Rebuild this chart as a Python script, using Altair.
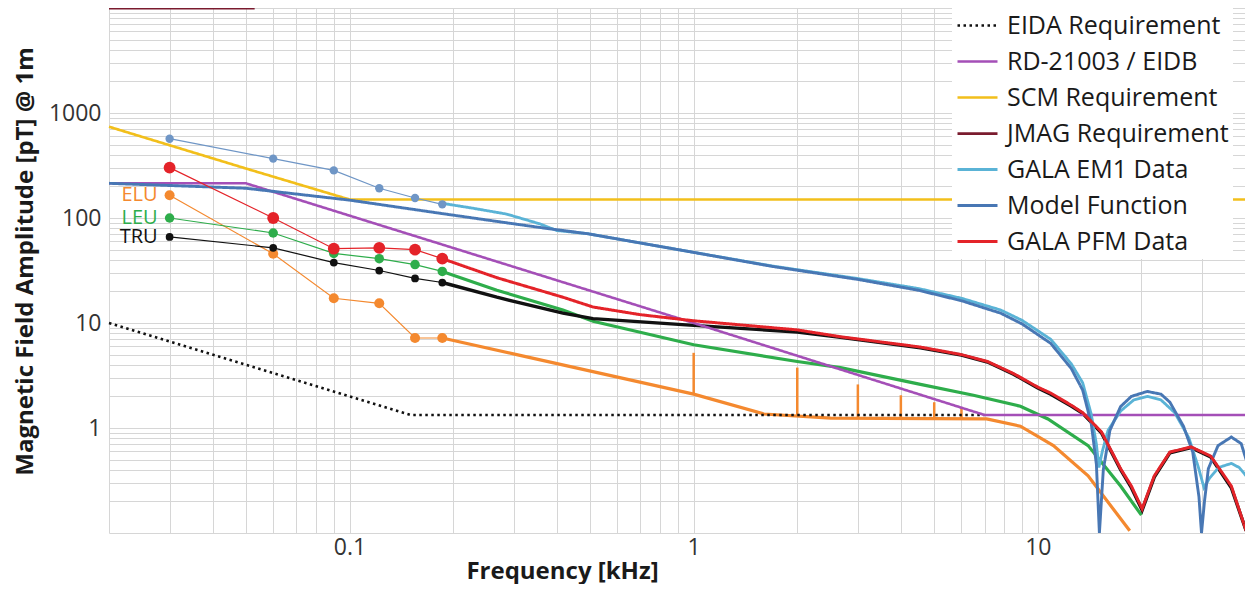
import altair as alt
import pandas as pd

FONT = "Open Sans"

# ---------------- data ----------------
legend_names = ["EIDA Requirement", "RD-21003 / EIDB", "SCM Requirement", "JMAG Requirement",
                "GALA EM1 Data", "Model Function", "GALA PFM Data"]
legend_colors = ["#111111", "#A44FB7", "#F2BF1B", "#7A1B2E", "#5AB3D6", "#4877B4", "#E42329"]
legend_dash = [[2.5, 3.5], [1, 0], [1, 0], [1, 0], [1, 0], [1, 0], [1, 0]]
legend_widths = [2.5, 3, 3, 3, 2, 2, 3.5]

eida_f = [0.02, 0.15, 7]
eida_v = [10, 1.333, 1.333]

rd_f = [0.02, 0.05, 1, 7, 40]
rd_v = [214, 214, 10, 1.33, 1.33]

scm_f = [0.02, 0.05, 0.1, 40]
scm_v = [740, 296, 150, 150]

jmag_f = [0.02, 0.053]
jmag_v = [10000, 10000]

em1_f = [0.186, 0.228, 0.286, 0.357, 0.4, 0.49, 0.87, 1.7, 3.0, 4.5, 6.0, 7.8, 9.0, 10.9,
         12.5, 13.5, 14.3, 14.8, 15.05, 15.4, 16.0, 17.4, 19.0, 20.8, 22.8, 25.0, 27.5,
         29.3, 30.4, 31.5, 33.5, 36.5, 38.5, 40.3]
em1_v = [138, 124, 109, 88, 76, 71, 51, 34.8, 26.5, 21.3, 17.2, 13.3, 10.6, 7.0,
         4.1, 2.7, 1.35, 0.7, 0.42, 0.6, 0.95, 1.45, 1.85, 2.0, 1.85, 1.4, 0.8,
         0.42, 0.27, 0.33, 0.42, 0.46, 0.42, 0.35]

model_f = [0.02, 0.05, 0.1, 0.183, 0.286, 0.38, 0.49, 0.87, 1.7, 3.0, 4.5, 6.0, 7.8, 9.0,
           10.9, 12.5, 13.5, 14.3, 14.8, 15.1, 15.5, 16.2, 17.4, 18.7, 20.8, 22.8, 24.2,
           26.5, 28.2, 29.4, 29.9, 30.5, 31.3, 33.4, 36.5, 39.0, 40.3]
model_v = [214, 192, 148, 111, 90, 79, 71, 51, 34.5, 26.0, 20.5, 16.3, 12.4, 9.8,
           6.4, 3.7, 2.3, 1.1, 0.45, 0.1, 0.4, 0.95, 1.6, 2.0, 2.23, 2.1, 1.76,
           1.04, 0.59, 0.22, 0.1, 0.2, 0.41, 0.68, 0.82, 0.71, 0.5]

pfm_f = [0.186, 0.268, 0.417, 0.51, 0.7, 1.0, 2.0, 2.67, 4.56, 6.0, 7.14, 8.5, 10.0, 10.9,
         12.5, 13.5, 15.3, 17.4, 18.7, 20.1, 21.8, 24.2, 27.9, 31.8, 36.5, 40.3]
pfm_v = [41, 27, 17.6, 14.2, 12.0, 10.5, 8.6, 7.4, 5.9, 5.0, 4.3, 3.3, 2.45, 2.15,
         1.65, 1.4, 0.92, 0.41, 0.28, 0.17, 0.35, 0.59, 0.66, 0.54, 0.28, 0.105]

tru_f = [0.186, 0.268, 0.417, 0.51, 0.95, 2.0, 2.67, 4.56, 6.0, 7.14, 8.5, 10.0, 10.9,
         12.5, 13.5, 15.3, 17.4, 18.7, 20.1, 21.8, 24.2, 27.9, 31.8, 36.5, 40.3]
tru_v = [24.3, 17.6, 12.4, 11.0, 9.6, 8.2, 7.3, 5.8, 4.95, 4.25, 3.25, 2.4, 2.1,
         1.62, 1.38, 0.9, 0.4, 0.27, 0.165, 0.34, 0.58, 0.65, 0.53, 0.27, 0.105]

leu_f = [0.186, 0.268, 0.417, 0.51, 1.0, 2.0, 2.67, 4.56, 6.5, 8.9, 10.7, 14.0, 17.4, 20.0]
leu_v = [31, 20.5, 13.3, 10.4, 6.2, 4.3, 3.76, 2.6, 2.05, 1.61, 1.22, 0.68, 0.28, 0.148]

elu_f = [0.186, 0.306, 1.0, 1.6, 2.5, 7.1, 8.9, 11.1, 14.0, 18.5]
elu_v = [7.2, 5.0, 2.1, 1.36, 1.24, 1.22, 1.04, 0.68, 0.35, 0.105]

spike_f = [1, 2, 3, 4, 5, 6]
spike_base = [2.1, 1.3, 1.22, 1.22, 1.22, 1.22]
spike_top = [5.2, 3.76, 2.6, 2.05, 1.76, 1.58]

marker_f = [0.03, 0.06, 0.09, 0.122, 0.155, 0.186]
em1_pts = [569, 368, 284, 192, 155, 135]
pfm_pts = [302, 100, 51, 52, 50, 41]
leu_pts = [100, 72, 46, 41, 36, 31]
tru_pts = [66, 52, 37.6, 31.6, 26.6, 24.3]
elu_pts = [165, 45.6, 17.2, 15.4, 7.2, 7.2]

unit_names = ["ELU", "LEU", "TRU"]
unit_colors = ["#F4892F", "#2EAD4B", "#111111"]
unit_values = [elu_pts[0], leu_pts[0], tru_pts[0]]

x_tick_labels = [0.1, 1, 10]
y_tick_labels = [1, 10, 100, 1000]
x_grid = [v for v in (round(m * 10.0 ** e, 6) for e in range(-2, 2) for m in range(1, 10))
          if 0.02 <= v <= 40]
y_grid = [round(m * 10.0 ** e, 6) for e in range(-1, 4) for m in range(1, 10)] + [10000]


def frame(name, f, v):
    return pd.DataFrame({"series": name, "f": f, "v": v, "i": list(range(len(f)))})


def label_expr(vals):
    arr = ",".join(str(v) for v in vals)
    return f"indexof([{arr}], datum.value) >= 0 ? format(datum.value, '~g') : ''"


xaxis = alt.Axis(values=x_grid, labelExpr=label_expr(x_tick_labels), title="Frequency [kHz]",
                 ticks=False, domain=False, labelOverlap=False, labelFlush=False,
                 labelFont=FONT, labelFontSize=23, labelColor="#333333", labelPadding=3,
                 titleFont=FONT, titleFontSize=24, titleFontWeight="bold", titleColor="#1a1a1a",
                 titlePadding=0, titleX=453, gridColor="#D6D6D6", gridWidth=1)
yaxis = alt.Axis(values=y_grid, labelExpr=label_expr(y_tick_labels),
                 title="Magnetic Field Amplitude [pT] @ 1m",
                 ticks=False, domain=False, labelOverlap=False, labelFlush=False,
                 labelFont=FONT, labelFontSize=23, labelColor="#333333", labelPadding=8,
                 titleFont=FONT, titleFontSize=24, titleFontWeight="bold", titleColor="#1a1a1a",
                 titlePadding=11, titleY=253, gridColor="#D6D6D6", gridWidth=1)

xs = alt.Scale(type="log", domain=[0.02, 40])
ys = alt.Scale(type="log", domain=[0.1, 10000])
X = alt.X("f:Q", scale=xs, axis=xaxis)
Y = alt.Y("v:Q", scale=ys, axis=yaxis)

legend_f = [eida_f, rd_f, scm_f, jmag_f, em1_f, model_f, pfm_f]
legend_v = [eida_v, rd_v, scm_v, jmag_v, em1_v, model_v, pfm_v]
main_df = pd.concat([frame(n, f, v) for n, f, v in zip(legend_names, legend_f, legend_v)])

leg = alt.Legend(title=None, orient="none", legendX=843, legendY=-8, symbolType="stroke",
                 symbolSize=1600, symbolStrokeWidth=3, labelFont=FONT, labelFontSize=25,
                 labelColor="#1a1a1a", fillColor="white", padding=4, rowPadding=1,
                 labelOffset=8, labelLimit=400)

layers = []

# thick non-legend lines (orange ELU, green LEU, black TRU)
for f, v, c, w in [(elu_f, elu_v, "#F4892F", 3.2), (leu_f, leu_v, "#2EAD4B", 3.2),
                   (tru_f, tru_v, "#111111", 3.4)]:
    layers.append(alt.Chart(frame("x", f, v)).mark_line(strokeWidth=w, color=c).encode(
        x=X, y=Y, order="i:Q"))

spike_df = pd.DataFrame({"f": spike_f, "v": spike_base, "v2": spike_top})
layers.append(alt.Chart(spike_df).mark_rule(color="#F4892F", strokeWidth=2.5).encode(
    x=X, y=Y, y2="v2:Q"))

layers.append(alt.Chart(main_df).mark_line(strokeCap="butt").encode(
    x=X, y=Y, order="i:Q",
    color=alt.Color("series:N", scale=alt.Scale(domain=legend_names, range=legend_colors), legend=leg),
    strokeDash=alt.StrokeDash("series:N", scale=alt.Scale(domain=legend_names, range=legend_dash), legend=leg),
    strokeWidth=alt.StrokeWidth("series:N", scale=alt.Scale(domain=legend_names, range=legend_widths), legend=None),
))

# low-frequency measured points
for pts, c, s in [(em1_pts, "#6F96C6", 70), (elu_pts, "#F4892F", 100), (leu_pts, "#2EAD4B", 90),
                  (tru_pts, "#111111", 60), (pfm_pts, "#E42329", 140)]:
    d = frame("p", marker_f, pts)
    layers.append(alt.Chart(d).mark_line(strokeWidth=1.2, color=c).encode(x=X, y=Y, order="i:Q"))
    layers.append(alt.Chart(d).mark_circle(size=s, color=c, opacity=1).encode(x=X, y=Y))

for n, c, v in zip(unit_names, unit_colors, unit_values):
    d = pd.DataFrame({"f": [marker_f[0]], "v": [v], "t": [n]})
    layers.append(alt.Chart(d).mark_text(align="right", baseline="middle", dx=-12, fontSize=20,
                                         font=FONT, color=c).encode(x=X, y=Y, text="t:N"))

chart = alt.layer(*layers).properties(
    width=1136, height=525,
    autosize=alt.AutoSizeParams(type="none"),
    padding={"left": 101, "top": 0, "right": 0, "bottom": 51},
).configure_view(strokeWidth=0)

chart.save("out.html", embed_options={"renderer": "svg", "actions": False})
